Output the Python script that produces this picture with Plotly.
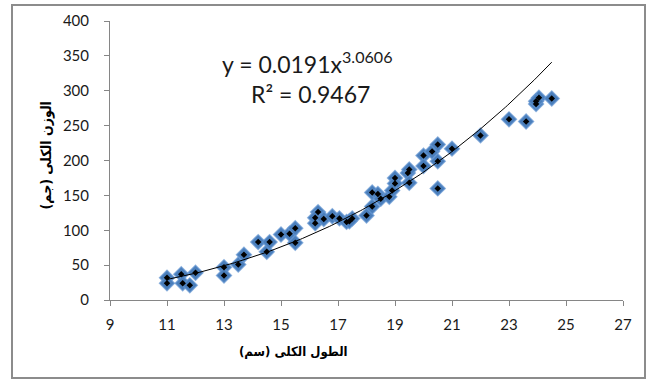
import numpy as np
import plotly.graph_objects as go

# Total length (cm) and total weight (g) of the sampled fish
length_cm = [11.0, 11.0, 11.5, 11.55, 11.8, 12.0, 13.0, 13.0, 13.5, 13.7,
             14.2, 14.5, 14.6, 15.0, 15.3, 15.5, 15.5, 16.2, 16.3, 16.2,
             16.5, 16.8, 17.05, 17.3, 17.5, 17.4, 18.0, 18.2, 18.2, 18.4,
             18.5, 18.8, 19.0, 19.0, 18.9, 19.45, 19.5, 19.5, 20.0, 20.0,
             20.3, 20.5, 20.5, 20.5, 21.0, 22.0, 23.0, 23.6, 23.95, 24.05,
             24.5, 23.95]
weight_g = [32, 24, 37, 24, 21, 39, 47, 35, 51, 65,
            83, 69, 83, 94, 95, 103, 82, 110, 126, 118,
            116, 120, 117, 112, 117, 113, 121, 134, 154, 152,
            145, 148, 175, 167, 157, 182, 187, 168, 207, 192,
            213, 223, 199, 160, 217, 236, 259, 256, 281, 290,
            289, 285]

# Power trend line  W = a * L^b
coef_a = 0.0191
coef_b = 3.0606
r_squared = 0.9467
trend_start, trend_end = 11.0, 24.5

x_ticks = [9, 11, 13, 15, 17, 19, 21, 23, 25, 27]
y_ticks = [0, 50, 100, 150, 200, 250, 300, 350, 400]

x_title = "الطول الكلى (سم)"
y_title = "الوزن الكلى (جم)"

# right-to-left embedding so the brackets stay with the Arabic words
RLE, PDF = "\u202B", "\u202C"

trend_x = np.linspace(trend_start, trend_end, 200)
trend_y = coef_a * trend_x ** coef_b

fig = go.Figure()

fig.add_trace(go.Scatter(
    x=length_cm, y=weight_g, mode="markers",
    marker=dict(symbol="diamond", size=11.5, color="#4A7EBB",
                line=dict(width=1.4, color="rgba(100,150,210,0.7)")),
    showlegend=False, hoverinfo="skip"))
fig.add_trace(go.Scatter(
    x=length_cm, y=weight_g, mode="markers",
    marker=dict(symbol="diamond", size=5, color="#000000"),
    showlegend=False, hoverinfo="skip"))
fig.add_trace(go.Scatter(
    x=trend_x, y=trend_y, mode="lines",
    line=dict(color="#000000", width=1),
    showlegend=False, hoverinfo="skip"))

tick_font = dict(family="Lato", size=15, color="#1a1a1a")
axis_common = dict(showline=True, linecolor="#868686", linewidth=1,
                   ticks="outside", ticklen=5, tickcolor="#868686",
                   showgrid=False, zeroline=False, tickfont=tick_font)

fig.update_xaxes(range=[9, 27], tickvals=x_ticks, ticklabelstandoff=6,
                 **axis_common)
fig.update_yaxes(range=[0, 400], tickvals=y_ticks, ticklabelstandoff=12,
                 **axis_common)

fig.add_annotation(x=15.9, y=340, xref="x", yref="y", showarrow=False,
                   text=f"y = {coef_a}x<sup>{coef_b}</sup>",
                   font=dict(family="Lato", size=23, color="#1a1a1a"))
fig.add_annotation(x=16.05, y=295, xref="x", yref="y", showarrow=False,
                   text=f"R² = {r_squared}",
                   font=dict(family="Lato", size=23, color="#1a1a1a"))

title_family = "DejaVu Sans Condensed, DejaVu Sans"
fig.add_annotation(x=(293 - 110) / 513, y=(300 - 361) / 279,
                   xref="paper", yref="paper", showarrow=False,
                   text=RLE + x_title + PDF,
                   font=dict(family=title_family, size=13, color="#000000",
                             weight="bold"))
fig.add_annotation(x=(35 - 110) / 513, y=(300 - 156) / 279,
                   xref="paper", yref="paper", showarrow=False,
                   text=RLE + y_title + PDF, textangle=-90,
                   font=dict(family=title_family, size=14, color="#000000",
                             weight="bold"))

# Outer chart frame
fig.add_shape(type="rect", xref="paper", yref="paper",
              xsizemode="pixel", ysizemode="pixel", xanchor=0, yanchor=0,
              x0=-98, x1=535, y0=-78, y1=295,
              line=dict(color="#8C8C8C", width=2), fillcolor="rgba(0,0,0,0)")

fig.update_layout(width=646, height=380,
                  margin=dict(l=110, r=23, t=21, b=80),
                  paper_bgcolor="white", plot_bgcolor="white")

fig.write_html("out.html")
